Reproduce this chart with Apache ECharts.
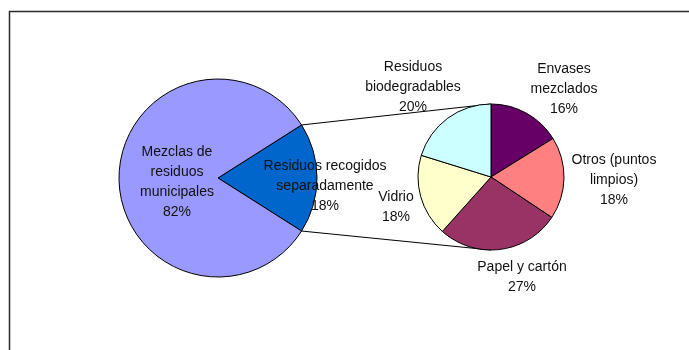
<!DOCTYPE html>
<html>
<head>
<meta charset="utf-8">
<script src="https://cdn.jsdelivr.net/npm/echarts@6/dist/echarts.min.js"></script>
<style>
  html, body { margin: 0; padding: 0; background: #ffffff; }
  #chart { width: 689px; height: 350px; }
</style>
</head>
<body>
<div id="chart"></div>
<script>
// Municipal waste: mixed vs. separately collected (main pie)
const mainNames = ['Residuos recogidos\nseparadamente', 'Mezclas de\nresiduos\nmunicipales'];
const mainValues = [18, 82];

// Breakdown of the separately collected fraction (secondary pie)
const subNames = ['Envases\nmezclados', 'Otros (puntos\nlimpios)', 'Papel y cartón', 'Vidrio', 'Residuos\nbiodegradables'];
const subValues = [16, 18, 27, 18, 20];

// Styling and layout
const mainColors = ['#0066CC', '#9999FF'];
const subColors = ['#660066', '#FF8080', '#993366', '#FFFFCC', '#CCFFFF'];
const MAIN = { cx: 218, cy: 178, r: 99 };
const SUB = { cx: 491, cy: 177, r: 73 };
// label block centres, relative to the centre of their pie
const mainLabelOffsets = [[107, 8], [-41, 4]];
const subLabelOffsets = [[73, -88], [123, 3], [31, 100], [-95, 30], [-78, -90]];

const FONT = 'Liberation Sans, Arial, sans-serif';

const sum = a => a.reduce((s, v) => s + v, 0);
// the separated wedge is centred on the right-hand side of the main pie
const mainStart = mainValues[0] / sum(mainValues) * 180;
const halfRad = mainStart * Math.PI / 180;

const wedgeTop = [MAIN.cx + MAIN.r * Math.cos(halfRad), MAIN.cy - MAIN.r * Math.sin(halfRad)];
const wedgeBottom = [MAIN.cx + MAIN.r * Math.cos(halfRad), MAIN.cy + MAIN.r * Math.sin(halfRad)];
const subTop = [SUB.cx, SUB.cy - SUB.r];
const subBottom = [SUB.cx, SUB.cy + SUB.r];

const labelStyle = {
  show: true,
  position: 'inside',
  formatter: '{b}\n{c}%',
  fontFamily: FONT,
  fontSize: 14,
  lineHeight: 20,
  color: '#111111',
  textBorderWidth: 0
};

function placeLabels(pie, offsets) {
  return function (params) {
    const o = offsets[params.dataIndex];
    return { x: pie.cx + o[0], y: pie.cy + o[1], align: 'center', verticalAlign: 'middle' };
  };
}

const chart = echarts.init(document.getElementById('chart'), null, { renderer: 'canvas' });

chart.setOption({
  animation: false,
  backgroundColor: '#ffffff',
  graphic: [
    {
      type: 'rect',
      z: 0,
      silent: true,
      shape: { x: 9.5, y: 11.5, width: 720, height: 420 },
      style: { fill: 'none', stroke: '#2b2b2b', lineWidth: 1.5 }
    },
    {
      type: 'polyline',
      z: 0,
      silent: true,
      shape: { points: [wedgeTop, subTop] },
      style: { stroke: '#000000', lineWidth: 1, fill: 'none' }
    },
    {
      type: 'polyline',
      z: 0,
      silent: true,
      shape: { points: [wedgeBottom, subBottom] },
      style: { stroke: '#000000', lineWidth: 1, fill: 'none' }
    }
  ],
  series: [
    {
      type: 'pie',
      silent: true,
      center: [MAIN.cx, MAIN.cy],
      radius: MAIN.r,
      startAngle: mainStart,
      clockwise: true,
      avoidLabelOverlap: false,
      itemStyle: { borderColor: '#000000', borderWidth: 1 },
      label: labelStyle,
      labelLine: { show: false },
      labelLayout: placeLabels(MAIN, mainLabelOffsets),
      data: mainNames.map((n, i) => ({ name: n, value: mainValues[i], itemStyle: { color: mainColors[i] } }))
    },
    {
      type: 'pie',
      silent: true,
      center: [SUB.cx, SUB.cy],
      radius: SUB.r,
      startAngle: 90,
      clockwise: true,
      avoidLabelOverlap: false,
      itemStyle: { borderColor: '#000000', borderWidth: 1 },
      label: labelStyle,
      labelLine: { show: false },
      labelLayout: placeLabels(SUB, subLabelOffsets),
      data: subNames.map((n, i) => ({ name: n, value: subValues[i], itemStyle: { color: subColors[i] } }))
    }
  ]
});
</script>
</body>
</html>
